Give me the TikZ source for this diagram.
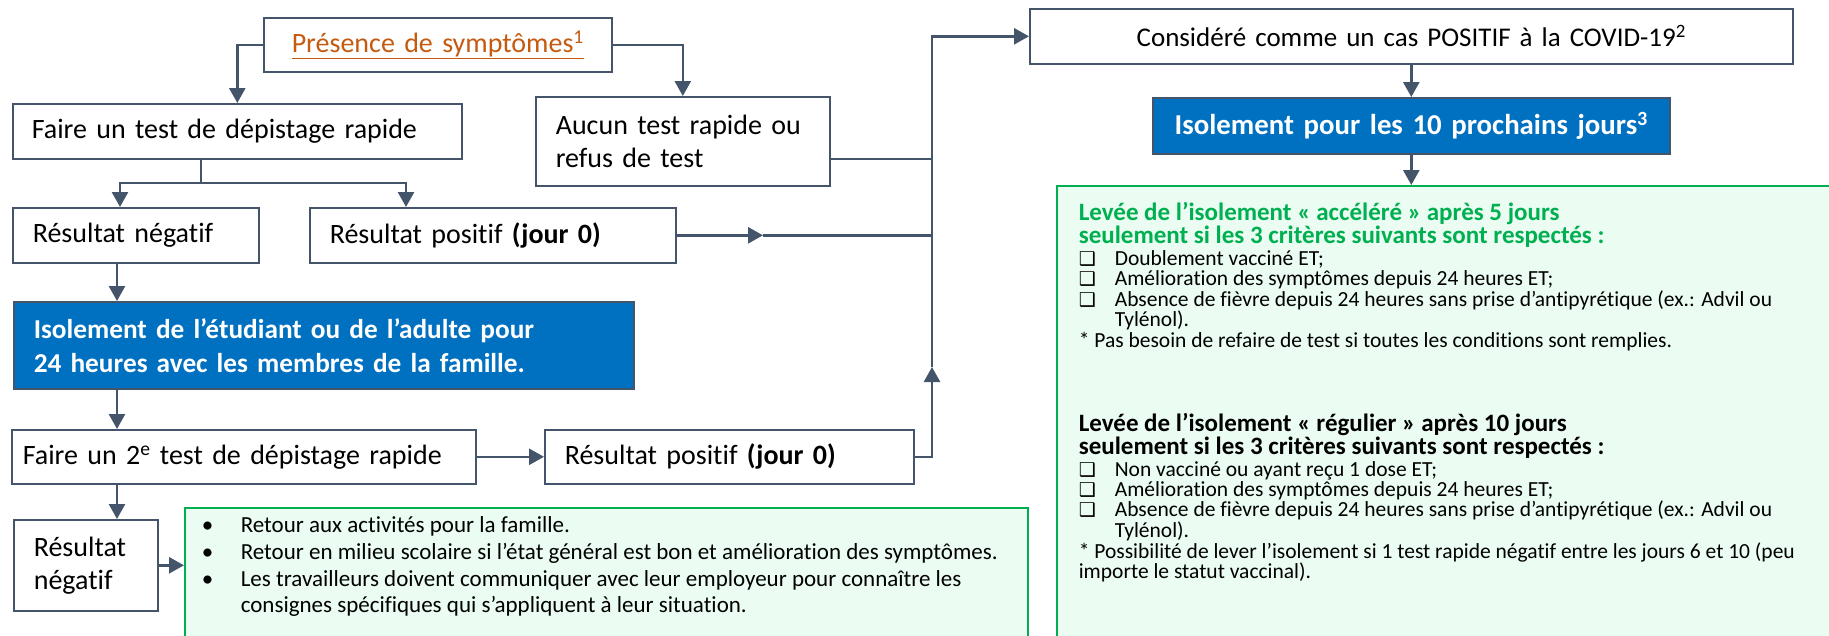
\documentclass[tikz,border=0pt]{standalone}
\usepackage{fontspec}
\setmainfont{Carlito}[Ligatures=NoCommon]
\newfontfamily\checkfont{DejaVu Sans}
\usepackage{tikz}
\usetikzlibrary{arrows.meta,positioning}
\definecolor{slate}{HTML}{44546A}
\definecolor{boxblue}{HTML}{0070C0}
\definecolor{symorange}{HTML}{C55A11}
\definecolor{notegreen}{HTML}{00B050}
\definecolor{notefill}{HTML}{EBFCF2}
\newcommand{\tickbox}{\makebox[36pt][l]{\checkfont\fontsize{19}{19}\selectfont ❑}}
\newcommand{\dotitem}{\makebox[42pt][l]{\hspace{3pt}\textbullet}}
\newcommand{\leveehead}{\bfseries\fontsize{25}{20.4}\selectfont}

\begin{document}
\begin{tikzpicture}[x=1pt, y=-1pt,
  flow/.style={draw=slate, line width=1.6pt, fill=white, anchor=north west, inner xsep=20pt, inner ysep=0pt, align=left, font=\fontsize{28}{33}\selectfont},
  bluebox/.style={flow, fill=boxblue, text=white, font=\bfseries\fontsize{27.3}{34}\selectfont},
  note/.style={draw=notegreen, line width=1.6pt, fill=notefill, anchor=north west},
  link/.style={draw=slate, line width=2.6pt},
  arr/.style={link, -{Triangle[length=15pt,width=16pt]}}]
\useasboundingbox (0,0) rectangle (1829,635);
\clip (0,0) rectangle (1829,635);

\node[flow, text width=308pt, minimum height=54pt, align=center, text=symorange] (presence) at (263,17) {\underline{Présence de symptômes\textsuperscript{1}}};
\node[flow, text width=411pt, minimum height=55pt, inner xsep=19pt] (faire) at (12,103) {Faire un test de dépistage rapide};
\node[flow, text width=254pt, minimum height=89pt] (aucun) at (535,96) {Aucun test rapide ou\\refus de test};
\node[flow, text width=206pt, minimum height=55pt] (resneg) at (12,207) {Résultat négatif};
\node[flow, text width=326pt, minimum height=55pt] (respos) at (309,207) {Résultat positif \textbf{(jour 0)}};
\node[bluebox, text width=580pt, minimum height=87pt] (isol) at (13,301) {Isolement de l’étudiant ou de l’adulte pour\\24 heures avec les membres de la famille.};
\node[flow, text width=442pt, minimum height=54pt, inner xsep=11pt] (faire2) at (11,429) {Faire un 2\textsuperscript{e} test de dépistage rapide};
\node[flow, text width=329pt, minimum height=54pt] (respos2) at (544,429) {Résultat positif \textbf{(jour 0)}};
\node[flow, text width=104pt, minimum height=91pt] (resneg2) at (13,519) {Résultat\\négatif};
\node[flow, text width=723pt, minimum height=55pt, align=center, font=\fontsize{27}{33}\selectfont] (considere) at (1029,8) {Considéré comme un cas POSITIF à la COVID-19\textsuperscript{2}};
\node[bluebox, text width=477pt, minimum height=56pt, align=center, font=\bfseries\fontsize{28.8}{34}\selectfont] (isol2) at (1152,97) {Isolement pour les 10 prochains jours\textsuperscript{3}};

\node[note, inner xsep=14pt, inner ysep=9pt] (retour) at (184,507) {\parbox[t][150pt][t]{815pt}{\raggedright\fontsize{23}{25.5}\selectfont
\dotitem Retour aux activités pour la famille.\\[1.5pt]
\dotitem Retour en milieu scolaire si l’état général est bon et amélioration des symptômes.\\[1.5pt]
\dotitem Les travailleurs doivent communiquer avec leur employeur pour connaître les\\
\hspace*{42pt}consignes spécifiques qui s’appliquent à leur situation.}};

\node[note, inner xsep=22pt, inner ysep=17pt] (levee) at (1056,185) {\parbox[t][440pt][t]{780pt}{\raggedright\fontsize{21.5}{20.4}\selectfont\lineskiplimit=-20pt
{\color{notegreen}\leveehead Levée de l’isolement «~accéléré~» après 5 jours}\\[2.5pt]
{\color{notegreen}\leveehead seulement si les 3 critères suivants sont respectés :}\\[1pt]
\tickbox Doublement vacciné ET;\\
\tickbox Amélioration des symptômes depuis 24 heures ET;\\
\tickbox Absence de fièvre depuis 24 heures sans prise d’antipyrétique (ex.: Advil ou\\
\hspace*{36pt}Tylénol).\\[0.5pt]
{}* Pas besoin de refaire de test si toutes les conditions sont remplies.\\[64pt]
{\leveehead Levée de l’isolement «~régulier~» après 10 jours}\\[2.5pt]
{\leveehead seulement si les 3 critères suivants sont respectés :}\\[1pt]
\tickbox Non vacciné ou ayant reçu 1 dose ET;\\
\tickbox Amélioration des symptômes depuis 24 heures ET;\\
\tickbox Absence de fièvre depuis 24 heures sans prise d’antipyrétique (ex.: Advil ou\\
\hspace*{36pt}Tylénol).\\[0.5pt]
{}* Possibilité de lever l’isolement si 1 test rapide négatif entre les jours 6 et 10 (peu\\
importe le statut vaccinal).}};

\coordinate (fork) at (201,183);
\coordinate (negin) at (120,207);
\coordinate (posin) at (406,207);
\coordinate (spine) at (117,0);
\coordinate (aucunout) at (829,159);
\coordinate (midtip) at (763,0);
\coordinate (trunk) at (932,0);
\coordinate (uptip) at (932,367);

\draw[arr] (presence.west) -| (faire.north);
\draw[arr] (presence.east) -| (aucun.north);
\draw[link] (faire.south -| fork) -- (fork);
\draw[arr] (fork) -| (negin);
\draw[arr] (fork) -| (posin);
\draw[arr] (resneg.south -| spine) -- (isol.north -| spine);
\draw[arr] (isol.south -| spine) -- (faire2.north -| spine);
\draw[arr] (faire2.south -| spine) -- (resneg2.north -| spine);
\draw[arr] (faire2) -- (respos2);
\draw[arr] (resneg2) -- (resneg2 -| retour.west);
\draw[arr] (respos.east) -- (respos.east -| midtip);
\draw[link] (respos.east -| midtip) -- (respos.east -| trunk);
\draw[link] (aucunout) -- (aucunout -| trunk);
\draw[arr] (respos2.east) -| (uptip);
\draw[arr] (uptip) |- (considere.west);
\draw[arr] (considere) -- (isol2);
\draw[arr] (isol2) -- (isol2 |- levee.north);
\end{tikzpicture}
\end{document}
